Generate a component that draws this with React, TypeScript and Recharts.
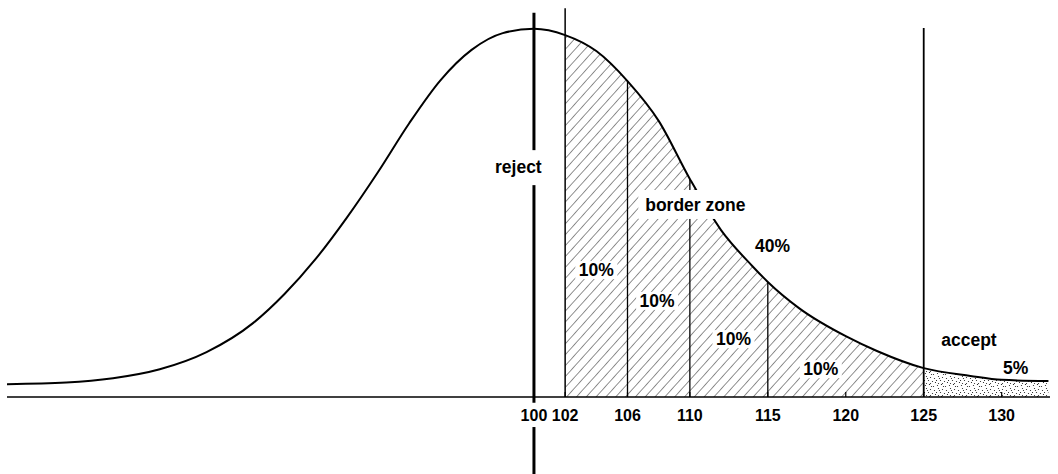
import React from "react";
import {
  ComposedChart,
  Line,
  Area,
  XAxis,
  YAxis,
  ReferenceLine,
  ReferenceDot,
} from "recharts";

const xValues = [
  66.2, 70, 73, 76, 79, 82, 84, 86, 88, 90, 92, 94, 96, 98, 100, 102, 104, 106,
  108, 110, 112, 114, 115, 117, 120, 122, 125, 128, 130, 133,
];
const curveValues = [
  3.3, 3.7, 4.8, 7.1, 11.5, 19.0, 26.4, 35.4, 46.0, 57.7, 70.2, 81.2, 89.0,
  93.3, 94.4, 92.8, 88.7, 81.0, 70.8, 55.9, 42.8, 33.6, 29.5, 22.8, 15.6, 11.8,
  7.4, 5.4, 4.4, 4.1,
];
const tickValues = [100, 102, 106, 110, 115, 120, 125, 130];

const rejectLimit = 100;
const borderStart = 102;
const acceptLimit = 125;
const zoneCuts = [106, 110, 115];
const tallLines = [100, 102, 125];
const tallLineTops = [98.5, 99.7, 94.6];

const FONT = "'Liberation Sans', Arial, Helvetica, sans-serif";

type Note = {
  text: string;
  x: number;
  y: number;
  box?: { w: number; up: number; down: number };
};

const notes: Note[] = [
  { text: "reject", x: 99.0, y: 57.4, box: { w: 54, up: 23, down: 12 } },
  { text: "border zone", x: 110.35, y: 47.7, box: { w: 114, up: 21, down: 8 } },
  { text: "40%", x: 115.3, y: 37.2 },
  { text: "10%", x: 104.0, y: 31.0, box: { w: 42, up: 15, down: 3 } },
  { text: "10%", x: 107.9, y: 23.1, box: { w: 42, up: 15, down: 3 } },
  { text: "10%", x: 112.8, y: 13.3, box: { w: 42, up: 15, down: 3 } },
  { text: "10%", x: 118.4, y: 5.6, box: { w: 42, up: 15, down: 3 } },
  { text: "accept", x: 127.9, y: 13.1 },
  { text: "5%", x: 130.9, y: 5.9 },
];

// speckle layout inside one 12x12 tile of the accept region
const stippleDots = [
  [1, 1], [5, 0], [9, 2], [2, 4], [6, 5], [10, 6], [0, 8], [4, 8],
  [8, 9], [11, 10], [2, 11], [6, 11], [7, 2], [3, 6],
];

const data = xValues.map((x, i) => ({
  x,
  density: curveValues[i],
  hatch: x >= borderStart && x <= acceptLimit ? curveValues[i] : null,
  dots: x >= acceptLimit ? curveValues[i] : null,
}));

const curveAt = (x: number) => curveValues[xValues.indexOf(x)];

const AxisTick = (props: any) => {
  const { x, y, payload } = props;
  return (
    <g>
      <line x1={x} x2={x} y1={y - 5} y2={y} stroke="#000" strokeWidth={1.2} />
      <text
        x={x}
        y={y + 24}
        textAnchor="middle"
        fontSize={16}
        fontWeight={700}
        fontFamily={FONT}
        fill="#000"
      >
        {payload.value}
      </text>
    </g>
  );
};

const NoteShape = ({ cx, cy, note }: { cx: number; cy: number; note: Note }) => (
  <g>
    {note.box && (
      <rect
        x={cx - note.box.w / 2}
        y={cy - note.box.up}
        width={note.box.w}
        height={note.box.up + note.box.down}
        fill="#fff"
      />
    )}
    <text
      x={cx}
      y={cy}
      textAnchor="middle"
      fontSize={17.5}
      fontWeight={700}
      fontFamily={FONT}
      fill="#000"
    >
      {note.text}
    </text>
  </g>
);

const App = () => {
  return (
    <div style={{ position: "absolute", left: 0, top: 0, background: "#fff" }}>
      <ComposedChart
        width={1058}
        height={474}
        data={data}
        margin={{ top: 7, right: 8, left: 7, bottom: 0 }}
      >
        <defs>
          <pattern
            id="hatch"
            patternUnits="userSpaceOnUse"
            width={7.3}
            height={10}
            patternTransform="rotate(42)"
          >
            <line x1={0} y1={0} x2={0} y2={10} stroke="#000" strokeWidth={0.9} />
          </pattern>
          <pattern id="stipple" patternUnits="userSpaceOnUse" width={12} height={12}>
            {stippleDots.map(([dx, dy], i) => (
              <circle key={i} cx={dx + 0.5} cy={dy + 0.5} r={0.6} fill="#222" />
            ))}
          </pattern>
        </defs>
        <XAxis
          dataKey="x"
          type="number"
          domain={[66.2, 133.1]}
          allowDataOverflow
          ticks={tickValues}
          interval={0}
          height={77}
          tickSize={0}
          tickMargin={0}
          tickLine={false}
          tick={<AxisTick />}
          axisLine={{ stroke: "#000", strokeWidth: 1.6 }}
        />
        <YAxis hide type="number" domain={[0, 100]} />
        <Area
          dataKey="hatch"
          type="monotone"
          fill="url(#hatch)"
          fillOpacity={1}
          stroke="none"
          isAnimationActive={false}
        />
        <Area
          dataKey="dots"
          type="monotone"
          fill="url(#stipple)"
          fillOpacity={1}
          stroke="none"
          isAnimationActive={false}
        />
        <Line
          dataKey="density"
          type="monotone"
          stroke="#000"
          strokeWidth={2}
          dot={false}
          activeDot={false}
          isAnimationActive={false}
        />
        {zoneCuts.map((x) => (
          <ReferenceLine
            key={x}
            segment={[
              { x, y: curveAt(x) },
              { x, y: 0 },
            ]}
            stroke="#000"
            strokeWidth={1.3}
            ifOverflow="visible"
          />
        ))}
        {tallLines.map((x, i) => (
          <ReferenceLine
            key={x}
            segment={[
              { x, y: tallLineTops[i] },
              { x, y: x === rejectLimit ? -1.5 : 0 },
            ]}
            stroke="#000"
            strokeWidth={x === rejectLimit ? 3 : x === acceptLimit ? 1.8 : 1.5}
            ifOverflow="visible"
          />
        ))}
        <ReferenceLine
          segment={[
            { x: rejectLimit, y: -7.7 },
            { x: rejectLimit, y: -20 },
          ]}
          stroke="#000"
          strokeWidth={3}
          ifOverflow="visible"
        />
        {notes.map((note, i) => (
          <ReferenceDot
            key={i}
            x={note.x}
            y={note.y}
            r={0}
            ifOverflow="visible"
            shape={(p: any) => <NoteShape cx={p.cx} cy={p.cy} note={note} />}
          />
        ))}
      </ComposedChart>
    </div>
  );
};

export default App;
